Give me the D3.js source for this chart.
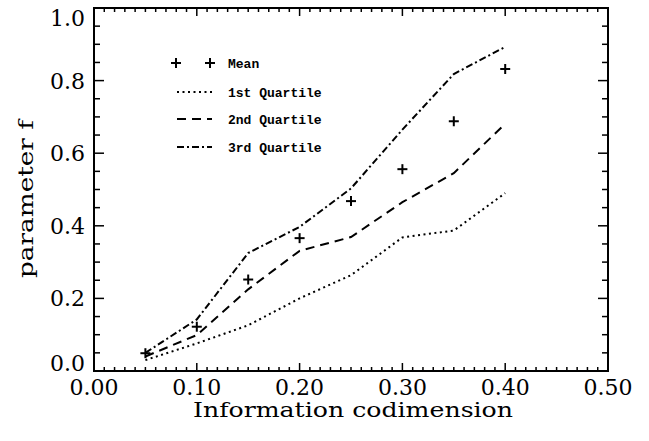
<!DOCTYPE html>
<html>
<head>
<meta charset="utf-8">
<script src="https://cdn.jsdelivr.net/npm/d3@7"></script>
<style>
  html, body { margin: 0; padding: 0; background: #fff; }
  svg { display: block; }
</style>
</head>
<body>
<script>
// ---- data ----
const xValues   = [0.05, 0.10, 0.15, 0.20, 0.25, 0.30, 0.35, 0.40];
const meanVals  = [0.049, 0.122, 0.252, 0.366, 0.468, 0.556, 0.688, 0.832];
const q1Vals    = [0.030, 0.076, 0.126, 0.200, 0.264, 0.368, 0.387, 0.490];
const q2Vals    = [0.040, 0.099, 0.225, 0.331, 0.369, 0.465, 0.545, 0.681];
const q3Vals    = [0.050, 0.142, 0.325, 0.397, 0.503, 0.665, 0.818, 0.893];
const xTickVals = [0.00, 0.10, 0.20, 0.30, 0.40, 0.50];
const yTickVals = [0.0, 0.2, 0.4, 0.6, 0.8, 1.0];
const legendLabels = ["Mean", "1st Quartile", "2nd Quartile", "3rd Quartile"];
const xTitle = "Information codimension";
const yTitle = "parameter f";

// ---- layout ----
const W = 649, H = 441;
const L = 94, R = 608, T = 8, B = 371;

const svg = d3.select("body").append("svg").attr("width", W).attr("height", H);

const x = d3.scaleLinear().domain([0, 0.5]).range([L, R]);
const y = d3.scaleLinear().domain([0, 1]).range([B, T]);

const tickFont = "'DejaVu Serif', serif";

// minor / major ticks
const g = svg.append("g");
const xMinor = d3.range(0, 0.5001, 0.01);
const yMinor = d3.range(0, 1.0001, 0.05);
const isMajorX = v => Math.abs(v * 10 - Math.round(v * 10)) < 1e-6;
const isMajorY = v => Math.abs(v * 5 - Math.round(v * 5)) < 1e-6;

// bottom & top ticks
xMinor.forEach(v => {
  const len = isMajorX(v) ? 8 : 4;
  g.append("line").attr("x1", x(v)).attr("x2", x(v)).attr("y1", B).attr("y2", B - len)
    .attr("stroke", "#000").attr("stroke-width", 1.5);
  g.append("line").attr("x1", x(v)).attr("x2", x(v)).attr("y1", T).attr("y2", T + len)
    .attr("stroke", "#000").attr("stroke-width", 1.5);
});
// left & right ticks
yMinor.forEach(v => {
  const len = isMajorY(v) ? 10 : 6;
  g.append("line").attr("x1", L).attr("x2", L + len).attr("y1", y(v)).attr("y2", y(v))
    .attr("stroke", "#000").attr("stroke-width", 1.5);
  g.append("line").attr("x1", R).attr("x2", R - len).attr("y1", y(v)).attr("y2", y(v))
    .attr("stroke", "#000").attr("stroke-width", 1.5);
});

// frame
svg.append("rect").attr("x", L).attr("y", T).attr("width", R - L).attr("height", B - T)
  .attr("fill", "none").attr("stroke", "#000").attr("stroke-width", 2);

// tick labels
svg.append("g").selectAll("text").data(xTickVals).join("text")
  .attr("x", d => x(d)).attr("y", 395)
  .attr("text-anchor", "middle")
  .attr("font-family", tickFont).attr("font-size", 22)
  .text(d => d.toFixed(2));

svg.append("g").selectAll("text").data(yTickVals).join("text")
  .attr("x", 85)
  .attr("y", (d, i) => y(d) + 8 + (i === 0 ? -8 : (i === yTickVals.length - 1 ? 10 : 0)))
  .attr("text-anchor", "end")
  .attr("font-family", tickFont).attr("font-size", 22)
  .text(d => d.toFixed(1));

// titles
svg.append("text").attr("x", 353).attr("y", 417)
  .attr("text-anchor", "middle")
  .attr("font-family", tickFont).attr("font-size", 21)
  .attr("textLength", 320).attr("lengthAdjust", "spacingAndGlyphs")
  .text(xTitle);

svg.append("text").attr("transform", "translate(33,199) rotate(-90)")
  .attr("text-anchor", "middle")
  .attr("font-family", tickFont).attr("font-size", 21)
  .attr("textLength", 158).attr("lengthAdjust", "spacingAndGlyphs")
  .text(yTitle);

// series
const styles = [
  { vals: q1Vals, dash: "2,3.5" },
  { vals: q2Vals, dash: "9,6" },
  { vals: q3Vals, dash: "7,3,2,3" }
];
const line = d3.line().x(d => x(d[0])).y(d => y(d[1]));
styles.forEach(s => {
  svg.append("path")
    .datum(xValues.map((v, i) => [v, s.vals[i]]))
    .attr("d", line)
    .attr("fill", "none").attr("stroke", "#000")
    .attr("stroke-width", 2).attr("stroke-dasharray", s.dash);
});

// mean markers
function plus(sel, cx, cy) {
  sel.append("line").attr("x1", cx - 5).attr("x2", cx + 5).attr("y1", cy).attr("y2", cy)
    .attr("stroke", "#000").attr("stroke-width", 2);
  sel.append("line").attr("x1", cx).attr("x2", cx).attr("y1", cy - 5).attr("y2", cy + 5)
    .attr("stroke", "#000").attr("stroke-width", 2);
}
const mg = svg.append("g");
xValues.forEach((v, i) => plus(mg, x(v), y(meanVals[i])));

// legend
const lg = svg.append("g");
const legY = [63, 92, 119, 147];
plus(lg, 176, legY[0]);
plus(lg, 210, legY[0]);
styles.forEach((s, i) => {
  lg.append("line").attr("x1", 177).attr("x2", 212)
    .attr("y1", legY[i + 1]).attr("y2", legY[i + 1])
    .attr("stroke", "#000").attr("stroke-width", 2).attr("stroke-dasharray", s.dash);
});
legendLabels.forEach((t, i) => {
  lg.append("text").attr("x", 228).attr("y", legY[i] + 4.5)
    .attr("font-family", "'Liberation Mono', monospace").attr("font-weight", "bold")
    .attr("font-size", 13).text(t);
});
</script>
</body>
</html>
